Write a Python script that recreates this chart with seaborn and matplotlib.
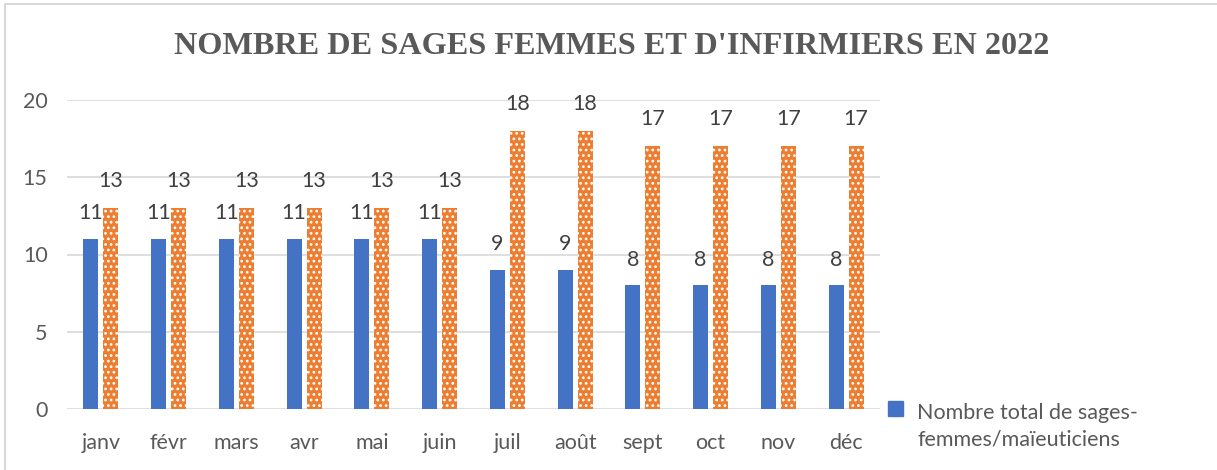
import pandas as pd
import matplotlib.pyplot as plt
import matplotlib.patches as mpatches
from matplotlib.legend_handler import HandlerPatch
import seaborn as sns

# monthly headcount 2022
mois = ['janv', 'févr', 'mars', 'avr', 'mai', 'juin',
        'juil', 'août', 'sept', 'oct', 'nov', 'déc']
sages_femmes = [11, 11, 11, 11, 11, 11, 9, 9, 8, 8, 8, 8]
infirmiers = [13, 13, 13, 13, 13, 13, 18, 18, 17, 17, 17, 17]
lab_sf = 'Nombre total de sages-\nfemmes/maïeuticiens'
lab_inf = "Nombre total d'infirmiers"

df = pd.DataFrame({
    'mois': mois * 2,
    'valeur': sages_femmes + infirmiers,
    'serie': [lab_sf] * len(mois) + [lab_inf] * len(mois),
})

sns.set_style('white')
plt.rcParams['font.family'] = ['Lato', 'DejaVu Sans']
plt.rcParams['hatch.linewidth'] = 1.2

blue = '#4472C4'
orange = '#ED7D31'
txt = '#595959'
fs = 15.5

fig = plt.figure(figsize=(12.17, 4.70), dpi=100)
ax = fig.add_axes([67 / 1217, 61 / 470, 813 / 1217, 309 / 470])

sns.barplot(data=df, x='mois', y='valeur', hue='serie',
            palette=[blue, orange], saturation=1, width=0.59, gap=0.25,
            legend=False, ax=ax, linewidth=0)

# dotted orange bars
for bar in ax.containers[1]:
    bar.set_hatch('...')
    bar.set_edgecolor('white')
    bar.set_linewidth(0)

# value labels
for cont, vals, off in zip(ax.containers, [sages_femmes, infirmiers], [18.5, 19.5]):
    for bar, v in zip(cont, vals):
        ax.annotate(str(v), (bar.get_x() + bar.get_width() / 2, bar.get_height()),
                    xytext=(0, off), textcoords='offset points',
                    ha='center', va='center', fontsize=fs, color='#404040')

ax.set_ylim(0, 20)
ax.set_yticks([0, 5, 10, 15, 20])
ax.set_xlim(-0.5, 11.5)
ax.yaxis.grid(True, color='#D9D9D9', linewidth=1.2)
ax.set_axisbelow(True)
sns.despine(ax=ax, left=True, bottom=True)
ax.tick_params(axis='both', length=0, labelsize=fs, colors=txt)
ax.tick_params(axis='y', pad=14)
ax.tick_params(axis='x', pad=17)
ax.set_xlabel('')
ax.set_ylabel('')

fig.text(0.503, 0.902, "NOMBRE DE SAGES FEMMES ET D'INFIRMIERS EN 2022",
         ha='center', va='center', fontsize=23.2, fontweight='bold',
         family='Liberation Serif', color=txt)


# legend square sits on the first text line
def square_first_line(legend, orig_handle, xdescent, ydescent, width, height, fontsize):
    return mpatches.Rectangle((-xdescent, -ydescent + 13), width, height)


h = mpatches.Patch(color=blue)
leg = fig.legend(handles=[h], labels=[lab_sf], loc='upper left',
                 bbox_to_anchor=(888 / 1217, 1 - 403 / 470), frameon=False,
                 fontsize=fs, handlelength=0.7, handleheight=0.7,
                 handletextpad=0.65, borderpad=0, borderaxespad=0,
                 handler_map={mpatches.Patch: HandlerPatch(patch_func=square_first_line)})
for t in leg.get_texts():
    t.set_color(txt)
    t.set_linespacing(1.4)

# outer chart frame
fig.patches.append(mpatches.Rectangle((5 / 1217, -0.05), 1.1, 1 - 4 / 470 + 0.05,
                                      transform=fig.transFigure, fill=False,
                                      edgecolor='#D9D9D9', linewidth=1.5))

fig.savefig('out.png', dpi=100)
